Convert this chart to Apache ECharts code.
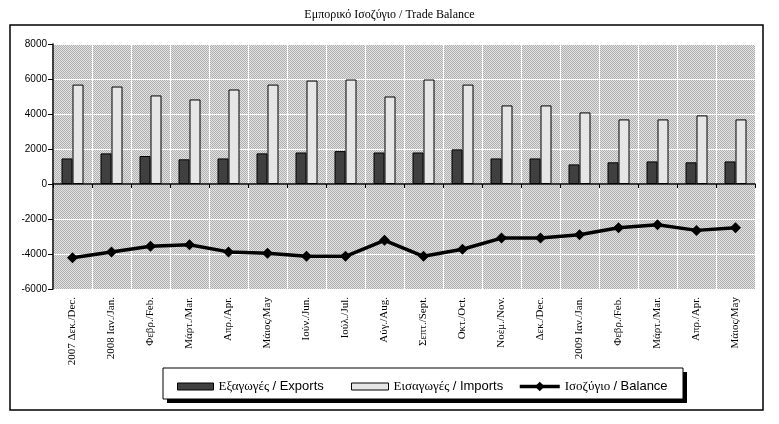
<!DOCTYPE html>
<html>
<head>
<meta charset="utf-8">
<script src="https://cdn.jsdelivr.net/npm/echarts@6/dist/echarts.min.js"></script>
<style>
html,body{margin:0;padding:0;background:#fff;}
#chart{width:779px;height:424px;}
</style>
</head>
<body>
<div id="chart"></div>
<script>
var categories = ["2007 Δεκ./Dec.", "2008 Ιαν./Jan.", "Φεβρ./Feb.", "Μάρτ./Mar.", "Απρ./Apr.", "Μάιος/May", "Ιούν./Jun.", "Ιούλ./Jul.", "Αύγ./Aug.", "Σεπτ./Sept.", "Οκτ./Oct.", "Νοέμ./Nov.", "Δεκ./Dec.", "2009 Ιαν./Jan.", "Φεβρ./Feb.", "Μάρτ./Mar.", "Απρ./Apr.", "Μάιος/May"];
var exportsData = [1460, 1750, 1600, 1410, 1460, 1750, 1800, 1880, 1800, 1800, 1980, 1460, 1460, 1120, 1240, 1290, 1240, 1290];
var importsData = [5680, 5570, 5060, 4830, 5400, 5680, 5910, 5970, 5000, 5970, 5680, 4490, 4490, 4090, 3690, 3690, 3920, 3690];
var balanceData = [-4220, -3880, -3560, -3470, -3880, -3960, -4130, -4130, -3220, -4130, -3730, -3090, -3090, -2900, -2500, -2330, -2650, -2500];
var yTicks = {min: -6000, max: 8000, interval: 2000};

var names = ["Εξαγωγές / Exports", "Εισαγωγές / Imports", "Ισοζύγιο / Balance"];

// dithered background pattern
var pc = document.createElement('canvas');
pc.width = 2; pc.height = 2;
var pctx = pc.getContext('2d');
pctx.fillStyle = '#e2e2e2'; pctx.fillRect(0,0,2,2);
pctx.fillStyle = '#b0b0b0'; pctx.fillRect(0,0,1,1); pctx.fillRect(1,1,1,1);

function legendFmt(n){
  var p = n.split(' / ');
  return '{g|' + p[0] + ' }{e|/ ' + p[1] + '}';
}
var legendRich = {
  g: {fontFamily: 'Liberation Serif', fontSize: 13, color: '#000'},
  e: {fontFamily: 'Liberation Sans', fontSize: 13, color: '#000'}
};

var chart = echarts.init(document.getElementById('chart'), null, {renderer: 'canvas'});
chart.setOption({
  animation: false,
  backgroundColor: '#fff',
  title: {
    text: 'Εμπορικό Ισοζύγιο / Trade Balance',
    left: 'center', top: 4,
    textStyle: {fontFamily: 'Liberation Serif', fontSize: 12, fontWeight: 'normal', color: '#000'}
  },
  graphic: [
    {type: 'rect', z: 0, shape: {x: 10, y: 25, width: 753, height: 385}, style: {fill: 'none', stroke: '#000', lineWidth: 1.5}},
    {type: 'rect', z: 1, shape: {x: 167, y: 372, width: 520, height: 31}, style: {fill: '#000'}},
    {type: 'rect', z: 2, shape: {x: 163, y: 368, width: 520, height: 31}, style: {fill: '#fff', stroke: '#000', lineWidth: 1}}
  ],
  legend: [
    {data: [{name: names[0], icon: 'rect'}], left: 172, top: 375, itemWidth: 36, itemHeight: 7, itemGap: 4, z: 10,
     itemStyle: {borderWidth: 1, borderColor: '#000'},
     formatter: legendFmt, textStyle: {rich: legendRich}},
    {data: [{name: names[1], icon: 'rect'}], left: 346, top: 375, itemWidth: 37, itemHeight: 7, itemGap: 4, z: 10,
     itemStyle: {borderWidth: 1, borderColor: '#000'},
     formatter: legendFmt, textStyle: {rich: legendRich}},
    {data: [names[2]], left: 513, top: 375, itemWidth: 40, itemHeight: 12, itemGap: 4, z: 10,
     lineStyle: {width: 3.5},
     formatter: legendFmt, textStyle: {rich: legendRich}}
  ],
  grid: {
    left: 53, right: 24, top: 44, bottom: 135,
    show: true, borderWidth: 0,
    backgroundColor: {image: pc, repeat: 'repeat'}
  },
  xAxis: [
    {
      type: 'category', data: categories, position: 'bottom',
      axisLine: {show: false, onZero: false},
      axisTick: {show: false},
      splitLine: {show: true, interval: 0, lineStyle: {color: '#fff', width: 1}},
      axisLabel: {interval: 0, rotate: 90, margin: 8, fontFamily: 'Liberation Serif', fontSize: 11, color: '#000'}
    },
    {
      type: 'category', data: categories, position: 'bottom',
      axisLine: {show: true, onZero: true, lineStyle: {color: '#000', width: 1.5}},
      axisTick: {show: true, interval: 0, length: 4, lineStyle: {color: '#000', width: 1}},
      axisLabel: {show: false, interval: 0},
      splitLine: {show: false}
    }
  ],
  yAxis: {
    type: 'value', min: yTicks.min, max: yTicks.max, interval: yTicks.interval,
    axisLine: {show: true, lineStyle: {color: '#000', width: 1.5}},
    axisTick: {show: true, length: 5, lineStyle: {color: '#000'}},
    splitLine: {show: true, lineStyle: {color: '#fff', width: 1}},
    axisLabel: {margin: 6, fontFamily: 'Liberation Sans', fontSize: 10, color: '#000',
      formatter: function(v){ return String(v); }}
  },
  series: [
    {name: names[0], type: 'bar', data: exportsData, barWidth: 11, barGap: '0%',
     itemStyle: {color: '#404040', borderColor: '#000', borderWidth: 1}},
    {name: names[1], type: 'bar', data: importsData, barWidth: 11, barGap: '0%',
     itemStyle: {color: '#e6e6e6', borderColor: '#000', borderWidth: 1}},
    {name: names[2], type: 'line', data: balanceData, symbol: 'diamond', symbolSize: 11,
     lineStyle: {color: '#000', width: 3.5}, itemStyle: {color: '#000'}, z: 5}
  ]
});
</script>
</body>
</html>
